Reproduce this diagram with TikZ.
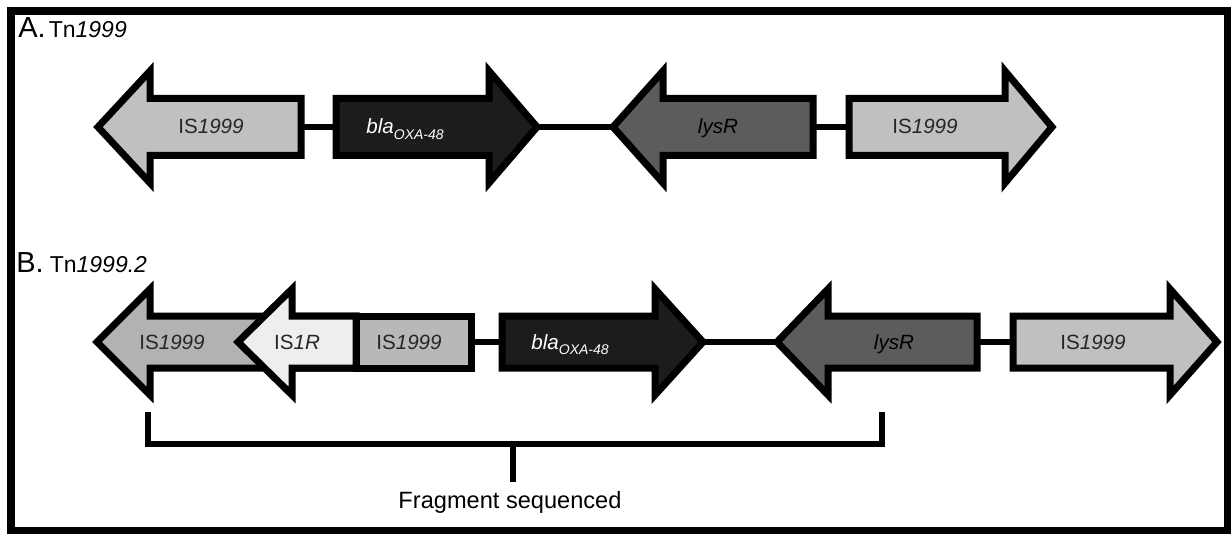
\documentclass[tikz,border=0pt]{standalone}
\usepackage{fontspec}
\setmainfont{Liberation Sans}
\definecolor{isgrey}{HTML}{C0C0C0}
\definecolor{isgreyb}{HTML}{B2B2B2}
\definecolor{isgreyc}{HTML}{B8B8B8}
\definecolor{blafill}{HTML}{1C1C1C}
\definecolor{lysfill}{HTML}{5C5C5C}
\definecolor{isonefill}{HTML}{EEEEEE}
\definecolor{labtext}{HTML}{262626}
\newcommand\genearrow[8]{%
  \draw[gene,fill=#2] (#3,#6) -- (#4,#6-#7) -- (#4,#6-#8) -- (#5,#6-#8)
     -- (#5,#6+#8) -- (#4,#6+#8) -- (#4,#6+#7) -- cycle;
  \coordinate (#1-tip) at (#3,#6);
  \coordinate (#1-tail) at (#5,#6);
}
\newcommand\blalabel{\textit{bla}\raisebox{-0.5ex}{\fontsize{7}{8}\selectfont\itshape OXA-48}}
\tikzset{
  gene/.style={draw=black, line width=3.5pt, line join=miter, miter limit=10},
  link/.style={draw=black, line width=3pt},
  brack/.style={draw=black, line width=3pt, line join=miter},
  glabel/.style={anchor=base, inner sep=0pt, font=\fontsize{10.3}{11}\selectfont, text=labtext},
  wlabel/.style={anchor=base west, inner sep=0pt, font=\fontsize{10.3}{11}\selectfont, text=white},
  title/.style={anchor=base west, inner sep=0pt},
}
\begin{document}
\begin{tikzpicture}[x=0.5pt, y=-0.5pt]
\useasboundingbox (0,0) rectangle (1231,534);
\draw[line width=3.75pt] (11,11) rectangle (1228,531);

% titles
\node[title] (tA) at (18,38) {{\fontsize{14.5}{15}\selectfont A.}\hspace{1.5pt}{\fontsize{11.5}{12}\selectfont Tn\textit{1999}}};
\node[title] (tB) at (16,272) {{\fontsize{14.5}{15}\selectfont B.}\hspace{3pt}{\fontsize{11.5}{12}\selectfont Tn\textit{1999.2}}};

% ---------- Row A ----------
\genearrow{A1}{isgrey}{98}{150}{301}{127}{56}{28.5}
\genearrow{A2}{blafill}{537}{489}{336}{127}{56}{28.5}
\genearrow{A3}{lysfill}{613}{663}{813}{127}{56}{28.5}
\genearrow{A4}{isgrey}{1052}{1005}{849}{127}{56}{28.5}
\draw[link] (A1-tail) -- (A2-tail);
\draw[link] (A2-tip) -- (A3-tip);
\draw[link] (A3-tail) -- (A4-tail);

\node[glabel] (lA1) at (211,134) {IS\textit{1999}};
\node[wlabel] (lA2) at (366,134) {\blalabel};
\node[glabel, text=black] (lA3) at (718,134) {\textit{lysR}};
\node[glabel] (lA4) at (925,134) {IS\textit{1999}};

% ---------- Row B ----------
\genearrow{B1}{isgreyb}{97}{150}{356}{342}{53}{26}
\genearrow{B2}{isonefill}{238}{292}{356}{342}{53}{26}
\draw[gene, fill=isgreyc] (356,316) rectangle (471,368);
\coordinate (B3-tail) at (471,342);
\genearrow{B4}{blafill}{703}{655}{502}{342}{53}{26}
\genearrow{B5}{lysfill}{777}{828}{977}{342}{53}{26}
\genearrow{B6}{isgrey}{1217}{1170}{1013}{342}{53}{26}
\draw[link] (B3-tail) -- (B4-tail);
\draw[link] (B4-tip) -- (B5-tip);
\draw[link] (B5-tail) -- (B6-tail);

\node[glabel] (lB1) at (172,349) {IS\textit{1999}};
\node[glabel] (lB2) at (297,349) {IS\textit{1R}};
\node[glabel] (lB3) at (409,349) {IS\textit{1999}};
\node[wlabel] (lB4) at (531,349) {\blalabel};
\node[glabel, text=black] (lB5) at (894,349) {\textit{lysR}};
\node[glabel] (lB6) at (1093,349) {IS\textit{1999}};

% ---------- bracket ----------
\coordinate (brL) at (148,412);
\coordinate (brR) at (882,412);
\coordinate (brM) at (513,444);
\coordinate (brE) at (513,482);
\draw[brack] (brL) -- (148,444) -- (882,444) -- (brR);
\draw[link] (brM) -- (brE);
\node[anchor=base, inner sep=0pt, font=\fontsize{11.8}{12}\selectfont] (frag) at (510,508) {Fragment sequenced};
\end{tikzpicture}
\end{document}
